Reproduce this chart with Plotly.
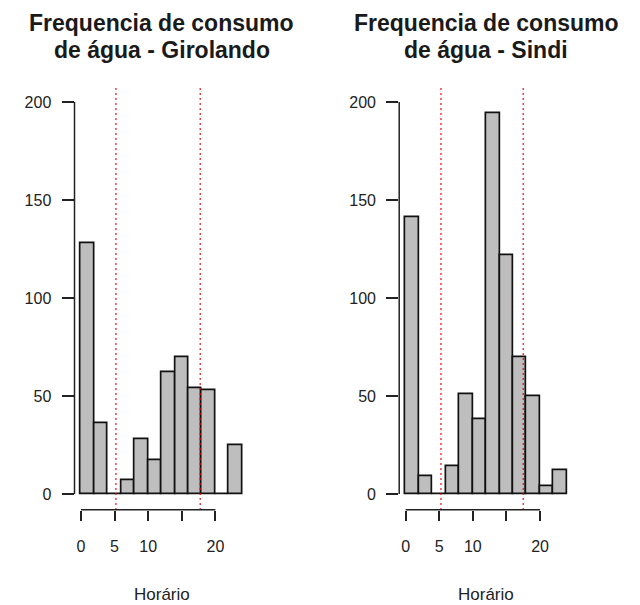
import plotly.graph_objects as go

# ---- data ----
bin_mids = [1, 3, 5, 7, 9, 11, 13, 15, 17, 19, 21, 23]
bin_width = 2
girolando_counts = [128, 36, 0, 7, 28, 17, 62, 70, 54, 53, 0, 25]
sindi_counts = [141, 9, 0, 14, 51, 38, 194, 122, 70, 50, 4, 12]
girolando_lines = [5.2, 17.75]
sindi_lines = [5.25, 17.5]
x_ticks = [0, 5, 10, 15, 20]
x_tick_labels = ["0", "5", "10", "", "20"]
y_ticks = [0, 50, 100, 150, 200]
y_tick_labels = ["0", "50", "100", "150", "200"]
titles = [["Frequencia de consumo", "de água - Girolando"],
          ["Frequencia de consumo", "de água - Sindi"]]
x_title = "Horário"

W, H = 640, 605
FONT = "Liberation Sans, Arial, sans-serif"
TXT = "#222222"

x_domains = [[74.5 / W, 248.7 / W], [399.2 / W, 573.4 / W]]
y_domain = [1 - 509.7 / H, 1 - 86.3 / H]

fig = go.Figure()
series = [girolando_counts, sindi_counts]
lines = [girolando_lines, sindi_lines]

for i, counts in enumerate(series):
    xa = "x" if i == 0 else "x2"
    ya = "y" if i == 0 else "y2"
    fig.add_trace(go.Bar(
        x=bin_mids, y=counts, width=bin_width,
        marker=dict(color="#bebebe", line=dict(color="#111111", width=1.7)),
        xaxis=xa, yaxis=ya, showlegend=False, hoverinfo="x+y",
    ))
    # reference lines (dotted red)
    for v in lines[i]:
        fig.add_shape(type="line", xref=xa, yref=f"{ya} domain",
                      x0=v, x1=v, y0=0, y1=1, layer="above",
                      line=dict(color="#e60000", width=1.5, dash="1.5px,3.5px"))
    # R-style axis lines spanning tick range
    fig.add_shape(type="line", xref=f"{xa} domain", yref=ya,
                  x0=0, x1=0, y0=y_ticks[0], y1=y_ticks[-1], layer="above",
                  line=dict(color="#222222", width=1.5))
    fig.add_shape(type="line", xref=xa, yref=f"{ya} domain",
                  x0=x_ticks[0], x1=x_ticks[-1], y0=0, y1=0, layer="above",
                  line=dict(color="#222222", width=1.5))
    # titles
    cx = (x_domains[i][0] + x_domains[i][1]) / 2
    for j, (line_txt, ypx) in enumerate(zip(titles[i], [23.0, 50.0])):
        fig.add_annotation(text=f"<b>{line_txt}</b>", x=cx, y=1 - ypx / H,
                           xref="paper", yref="paper", xanchor="center",
                           yanchor="middle", showarrow=False,
                           font=dict(family=FONT, size=23, color="#1a1a1a"))
    fig.add_annotation(text=x_title, x=cx, y=1 - 594 / H, xref="paper", yref="paper",
                       xanchor="center", yanchor="middle", showarrow=False,
                       font=dict(family=FONT, size=17, color=TXT))

axis_common_x = dict(range=[-0.96, 24.96], tickvals=x_ticks, ticktext=x_tick_labels,
                     ticks="outside", ticklen=10, tickwidth=1.5, tickcolor="#222222",
                     showline=False, showgrid=False, zeroline=False,
                     ticklabelstandoff=12,
                     tickfont=dict(family=FONT, size=16, color=TXT), fixedrange=True)
axis_common_y = dict(range=[-8, 208], tickvals=y_ticks, ticktext=y_tick_labels,
                     ticks="outside", ticklen=12, tickwidth=1.5, tickcolor="#222222",
                     showline=False, showgrid=False, zeroline=False,
                     ticklabelstandoff=7, domain=y_domain,
                     tickfont=dict(family=FONT, size=16, color=TXT), fixedrange=True)

fig.update_layout(
    width=W, height=H, margin=dict(l=0, r=0, t=0, b=0),
    paper_bgcolor="white", plot_bgcolor="white", bargap=0,
    xaxis=dict(domain=x_domains[0], anchor="y", **axis_common_x),
    yaxis=dict(anchor="x", **axis_common_y),
    xaxis2=dict(domain=x_domains[1], anchor="y2", **axis_common_x),
    yaxis2=dict(anchor="x2", **axis_common_y),
)

fig.write_html("out.html", config={"displayModeBar": False},
               post_script="document.body.style.margin='0';document.body.style.overflow='hidden';")
